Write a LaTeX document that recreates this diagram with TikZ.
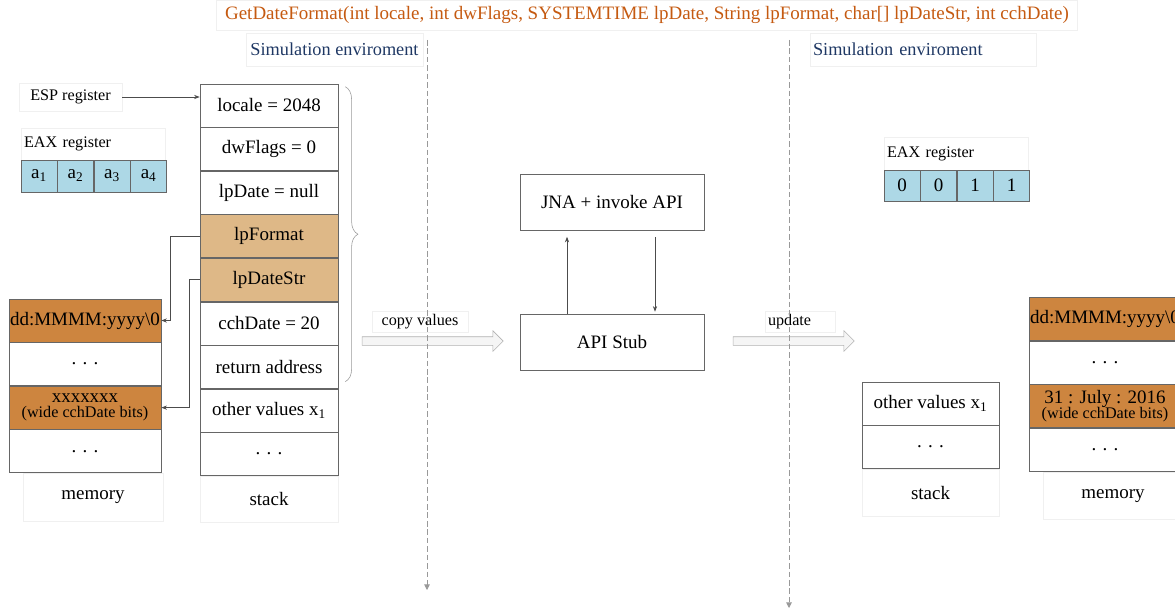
\documentclass[tikz,border=0pt]{standalone}
\usepackage{fontspec}
\setmainfont{Liberation Serif}
\usetikzlibrary{arrows.meta, shapes.arrows, decorations.pathreplacing, positioning}
\definecolor{titleorange}{RGB}{197,90,17}
\definecolor{envblue}{RGB}{31,56,100}
\definecolor{ptrtan}{RGB}{222,184,135}
\definecolor{memorange}{RGB}{205,133,63}
\definecolor{regblue}{RGB}{173,216,230}
\newcommand{\pxu}{0.025cm}
\newcommand{\cellfont}{\fontsize{13.5}{15}\selectfont}
\newcommand{\tagfont}{\fontsize{11.5}{13}\selectfont}
\tikzset{
  cell/.style={rectangle, draw=gray!80!black, minimum width=138*\pxu,
    minimum height=43*\pxu, inner sep=0pt, align=center, font=\cellfont},
  ptr/.style={cell, fill=ptrtan},
  memcell/.style={cell, minimum width=152*\pxu},
  hot/.style={memcell, fill=memorange},
  reg/.style={rectangle, draw=gray!80!black, fill=regblue, minimum width=36*\pxu,
    minimum height=32*\pxu, inner sep=0pt, font=\cellfont},
  tag/.style={rectangle, draw=gray!12, inner sep=0pt, font=\tagfont},
  apibox/.style={rectangle, draw=gray!80!black, minimum width=184*\pxu,
    minimum height=56*\pxu, font=\cellfont},
  fatarr/.style={single arrow, draw=gray!60, fill=gray!8, inner sep=4*\pxu,
    single arrow head extend=6*\pxu, minimum width=20*\pxu},
  arr/.style={-{Stealth[length=4pt, width=3pt]}, gray!60!black, line width=0.5pt},
  lane/.style={gray!80, dash pattern=on 4pt off 2pt, line width=0.6pt, -{Triangle[length=4pt, width=4pt]}},
}

\begin{document}
\begin{tikzpicture}[x=\pxu, y=-\pxu]
  \useasboundingbox (0,0) rectangle (1175,611);

  % Header
  \node[tag, minimum width=861*\pxu, minimum height=30*\pxu, text=titleorange, font=\cellfont]
    (title) at (647,15) {GetDateFormat(int locale, int dwFlags, SYSTEMTIME lpDate, String lpFormat, char[] lpDateStr, int cchDate)};
  \node[tag, minimum width=177*\pxu, minimum height=33*\pxu, text=envblue, font=\fontsize{13}{15}\selectfont]
    (envL) at (334.5,49.5) {Simulation enviroment};
  \node[tag, minimum width=226*\pxu, minimum height=33*\pxu, text=envblue, font=\fontsize{13}{15}\selectfont,
    text width=220*\pxu, align=left] (envR) at (923,49.5) {Simulation enviroment};

  % Registers (before)
  \node[tag, minimum width=103*\pxu, minimum height=28*\pxu] (esp) at (70.5,97) {ESP register};
  \node[tag, minimum width=144*\pxu, minimum height=32*\pxu, text width=138*\pxu, align=left]
    (eaxL) at (93,144) {EAX register};
  \node[reg] (a1) at (39,176) {a\textsubscript{1}};
  \node[reg, right=0pt of a1] (a2) {a\textsubscript{2}};
  \node[reg, right=0pt of a2] (a3) {a\textsubscript{3}};
  \node[reg, right=0pt of a3] (a4) {a\textsubscript{4}};

  % Stack (before)
  \node[cell] (s1) at (269,105.5) {locale = 2048};
  \node[cell, below=0pt of s1] (s2) {dwFlags = 0};
  \node[cell, below=0pt of s2] (s3) {lpDate = null};
  \node[ptr, below=0pt of s3] (s4) {lpFormat};
  \node[ptr, below=0pt of s4] (s5) {lpDateStr};
  \node[cell, below=0pt of s5] (s6) {cchDate = 20};
  \node[cell, below=0pt of s6] (s7) {return address};
  \node[cell, below=0pt of s7] (s8) {other values x\textsubscript{1}};
  \node[cell, below=0pt of s8] (s9) {. . .};
  \node[tag, font=\cellfont, minimum width=138*\pxu, minimum height=46*\pxu, below=0pt of s9] (stackL) {stack};

  % Memory (before)
  \node[hot] (m1) at (85,320.5) {dd:MMMM:yyyy\textbackslash 0};
  \node[memcell, below=0pt of m1] (m2) {. . .};
  \node[hot, below=0pt of m2] (m3) {xxxxxxx\\[-4pt]{\tagfont (wide cchDate bits)}};
  \node[memcell, below=0pt of m3] (m4) {. . .};
  \node[tag, font=\cellfont, minimum width=140*\pxu, minimum height=48*\pxu] (memL) at (93,497) {memory};

  % Pointers
  \draw[arr] (esp.east) -- (esp.east -| s1.west);
  \draw[arr] (s4.west) -- ++(-29,0) |- (m1.east);
  \draw[arr] (s5.west) -- ++(-10,0) |- (m3.east);
  \draw[gray!80, decorate, decoration={brace, amplitude=9pt}]
    ([xshift=7*\pxu, yshift=-3*\pxu]s1.north east) -- ([xshift=7*\pxu, yshift=7*\pxu]s7.south east);

  % API call
  \node[apibox] (jna) at (612,202.5) {JNA + invoke API};
  \node[apibox] (stub) at (612,342) {API Stub};
  \draw[arr] ([xshift=-45*\pxu]stub.north) -- ([xshift=-45*\pxu, yshift=-6*\pxu]jna.south);
  \draw[arr] ([xshift=43*\pxu, yshift=-6*\pxu]jna.south) -- ([xshift=43*\pxu, yshift=2*\pxu]stub.north);

  \node[fatarr, minimum height=141*\pxu] (copy) at (430.5,341) {};
  \node[tag, minimum width=96*\pxu, minimum height=21*\pxu] (copyL) at (420,321.5) {copy values};
  \node[fatarr, minimum height=121*\pxu] (upd) at (791.5,341) {};
  \node[tag, minimum width=70*\pxu, minimum height=21*\pxu, text width=64*\pxu, align=left]
    (updL) at (800,321.5) {update};

  % Registers (after)
  \node[tag, minimum width=144*\pxu, minimum height=33*\pxu, text width=138*\pxu, align=left]
    (eaxR) at (956,153.5) {EAX register};
  \node[reg, minimum height=31*\pxu] (b1) at (902,185.5) {0};
  \node[reg, minimum height=31*\pxu, right=0pt of b1] (b2) {0};
  \node[reg, minimum height=31*\pxu, right=0pt of b2] (b3) {1};
  \node[reg, minimum height=31*\pxu, right=0pt of b3] (b4) {1};

  % Stack (after)
  \node[cell, minimum width=137*\pxu] (rs1) at (930.5,403.5) {other values x\textsubscript{1}};
  \node[cell, minimum width=137*\pxu, below=0pt of rs1] (rs2) {. . .};
  \node[tag, font=\cellfont, minimum width=137*\pxu, minimum height=47*\pxu, below=0pt of rs2] (stackR) {stack};

  % Memory (after)
  \node[hot] (rm1) at (1105,319) {dd:MMMM:yyyy\textbackslash 0};
  \node[memcell, below=0pt of rm1] (rm2) {. . .};
  \node[hot, below=0pt of rm2] (rm3) {31 : July : 2016\\[-4pt]{\tagfont (wide cchDate bits)}};
  \node[memcell, below=0pt of rm3] (rm4) {. . .};
  \node[tag, font=\cellfont, minimum width=140*\pxu, minimum height=47*\pxu] (memR) at (1113,496) {memory};

  % Lanes
  \coordinate (laneAtop) at (427,40);
  \coordinate (laneAbot) at (427,590);
  \coordinate (laneBtop) at (789,40);
  \coordinate (laneBbot) at (789,608);
  \draw[lane] (laneAtop) -- (laneAbot);
  \draw[lane] (laneBtop) -- (laneBbot);
\end{tikzpicture}
\end{document}
